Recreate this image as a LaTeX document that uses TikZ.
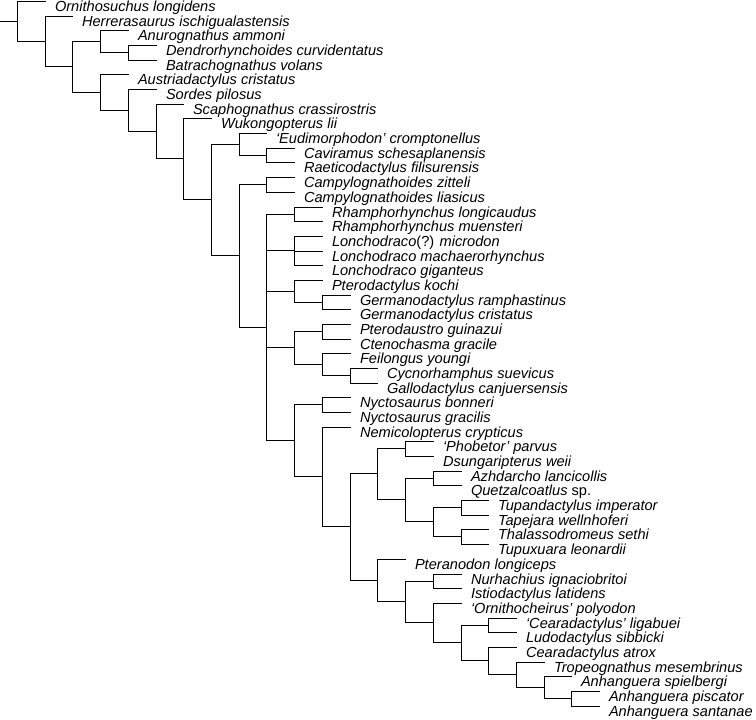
\documentclass[tikz,border=0pt]{standalone}
\usepackage{fontspec}
\setmainfont{Liberation Sans}
\usetikzlibrary{calc}
\newcommand\mkleaf[4]{%
  \coordinate (#1) at ({round(17+27.72*#2)+0.5},{round(1+(#3-1)*14.68)+0.5});
  \node[lab] (t#1) at (#1) {#4};}
\newcommand\mknode[4]{%
  \path let \p1=($(#3)!.5!(#4)$), \p2=(d#2) in coordinate (#1) at (\x2,{floor(\y1)+0.5pt});}
\newcommand\br[3]{\draw[br] (#2) -| (#1) |- (#3);}
\begin{document}
\begin{tikzpicture}[x=1pt,y=-1pt,
  br/.style={line width=1.5pt, black},
  lab/.style={anchor=base west, inner sep=0pt, xshift=9.3pt, yshift=-10.1pt,
    font=\fontsize{14.6pt}{17pt}\selectfont\itshape}]
\useasboundingbox (0,0) rectangle (756,720);
\coordinate (origin) at (0,0);
\foreach \d in {0,...,21} \coordinate (d\d) at ({round(17+27.72*\d)+0.5},0);
% leaves
\mkleaf{l1}{1}{1}{Ornithosuchus longidens}
\mkleaf{l2}{2}{2}{Herrerasaurus ischigualastensis}
\mkleaf{l3}{4}{3}{Anurognathus ammoni}
\mkleaf{l4}{5}{4}{Dendrorhynchoides curvidentatus}
\mkleaf{l5}{5}{5}{Batrachognathus volans}
\mkleaf{l6}{4}{6}{Austriadactylus cristatus}
\mkleaf{l7}{5}{7}{Sordes pilosus}
\mkleaf{l8}{6}{8}{Scaphognathus crassirostris}
\mkleaf{l9}{7}{9}{Wukongopterus lii}
\mkleaf{l10}{9}{10}{‘Eudimorphodon’ cromptonellus}
\mkleaf{l11}{10}{11}{Caviramus schesaplanensis}
\mkleaf{l12}{10}{12}{Raeticodactylus filisurensis}
\mkleaf{l13}{10}{13}{Campylognathoides zitteli}
\mkleaf{l14}{10}{14}{Campylognathoides liasicus}
\mkleaf{l15}{11}{15}{Rhamphorhynchus longicaudus}
\mkleaf{l16}{11}{16}{Rhamphorhynchus muensteri}
\mkleaf{l17}{11}{17}{Lonchodraco{\upshape(?)} microdon}
\mkleaf{l18}{11}{18}{Lonchodraco machaerorhynchus}
\mkleaf{l19}{11}{19}{Lonchodraco giganteus}
\mkleaf{l20}{11}{20}{Pterodactylus kochi}
\mkleaf{l21}{12}{21}{Germanodactylus ramphastinus}
\mkleaf{l22}{12}{22}{Germanodactylus cristatus}
\mkleaf{l23}{12}{23}{Pterodaustro guinazui}
\mkleaf{l24}{12}{24}{Ctenochasma gracile}
\mkleaf{l25}{12}{25}{Feilongus youngi}
\mkleaf{l26}{13}{26}{Cycnorhamphus suevicus}
\mkleaf{l27}{13}{27}{Gallodactylus canjuersensis}
\mkleaf{l28}{12}{28}{Nyctosaurus bonneri}
\mkleaf{l29}{12}{29}{Nyctosaurus gracilis}
\mkleaf{l30}{12}{30}{Nemicolopterus crypticus}
\mkleaf{l31}{15}{31}{‘Phobetor’ parvus}
\mkleaf{l32}{15}{32}{Dsungaripterus weii}
\mkleaf{l33}{16}{33}{Azhdarcho lancicollis}
\mkleaf{l34}{16}{34}{Quetzalcoatlus {\upshape sp.}}
\mkleaf{l35}{17}{35}{Tupandactylus imperator}
\mkleaf{l36}{17}{36}{Tapejara wellnhoferi}
\mkleaf{l37}{17}{37}{Thalassodromeus sethi}
\mkleaf{l38}{17}{38}{Tupuxuara leonardii}
\mkleaf{l39}{14}{39}{Pteranodon longiceps}
\mkleaf{l40}{16}{40}{Nurhachius ignaciobritoi}
\mkleaf{l41}{16}{41}{Istiodactylus latidens}
\mkleaf{l42}{16}{42}{‘Ornithocheirus’ polyodon}
\mkleaf{l43}{18}{43}{‘Cearadactylus’ ligabuei}
\mkleaf{l44}{18}{44}{Ludodactylus sibbicki}
\mkleaf{l45}{18}{45}{Cearadactylus atrox}
\mkleaf{l46}{19}{46}{Tropeognathus mesembrinus}
\mkleaf{l47}{20}{47}{Anhanguera spielbergi}
\mkleaf{l48}{21}{48}{Anhanguera piscator}
\mkleaf{l49}{21}{49}{Anhanguera santanae}
% internal nodes
\mknode{nDB}{4}{l4}{l5}
\mknode{nA}{3}{l3}{nDB}
\mknode{nCR}{9}{l11}{l12}
\mknode{nECR}{8}{l10}{nCR}
\mknode{nCampy}{9}{l13}{l14}
\mknode{nRham}{10}{l15}{l16}
\mknode{nLonch}{10}{l17}{l19}
\mknode{nGerm}{11}{l21}{l22}
\mknode{nPtero}{10}{l20}{nGerm}
\mknode{nPC}{11}{l23}{l24}
\mknode{nCG}{12}{l26}{l27}
\mknode{nFCG}{11}{l25}{nCG}
\mknode{nCten}{10}{nPC}{nFCG}
\mknode{nNycto}{11}{l28}{l29}
\mknode{nPD}{14}{l31}{l32}
\mknode{nAQ}{15}{l33}{l34}
\mknode{nTTa}{16}{l35}{l36}
\mknode{nTTb}{16}{l37}{l38}
\mknode{nTap}{15}{nTTa}{nTTb}
\mknode{nAzT}{14}{nAQ}{nTap}
\mknode{nDsu}{13}{nPD}{nAzT}
\mknode{nNI}{15}{l40}{l41}
\mknode{nCL}{17}{l43}{l44}
\mknode{nAps}{20}{l48}{l49}
\mknode{nAsp}{19}{l47}{nAps}
\mknode{nTro}{18}{l46}{nAsp}
\mknode{nCat}{17}{l45}{nTro}
\mknode{nCea}{16}{nCL}{nCat}
\mknode{nOrn}{15}{l42}{nCea}
\mknode{nIst}{14}{nNI}{nOrn}
\mknode{nPtd}{13}{l39}{nIst}
\mknode{nPtdc}{12}{nDsu}{nPtd}
\mknode{nNem}{11}{l30}{nPtdc}
\mknode{nPtr}{10}{nNycto}{nNem}
\mknode{nPol}{9}{nRham}{nPtr}
\mknode{nNov}{8}{nCampy}{nPol}
\mknode{nWuk}{7}{nECR}{nNov}
\mknode{nW}{6}{l9}{nWuk}
\mknode{nS}{5}{l8}{nW}
\mknode{nSo}{4}{l7}{nS}
\mknode{nAu}{3}{l6}{nSo}
\mknode{nPt}{2}{nA}{nAu}
\mknode{nH}{1}{l2}{nPt}
\mknode{root}{0}{l1}{nH}
% connectors
\draw[br] (root) -- (root -| origin);
\br{root}{l1}{nH}
\br{nH}{l2}{nPt}
\br{nPt}{nA}{nAu}
\br{nA}{l3}{nDB}
\br{nDB}{l4}{l5}
\br{nAu}{l6}{nSo}
\br{nSo}{l7}{nS}
\br{nS}{l8}{nW}
\br{nW}{l9}{nWuk}
\br{nWuk}{nECR}{nNov}
\br{nECR}{l10}{nCR}
\br{nCR}{l11}{l12}
\br{nNov}{nCampy}{nPol}
\br{nCampy}{l13}{l14}
\br{nPol}{nRham}{nPtr}
\foreach \c in {nLonch,nPtero,nCten} \draw[br] (nPol |- \c) -- (\c);
\br{nRham}{l15}{l16}
\br{nLonch}{l17}{l19}
\draw[br] (nLonch |- l18) -- (l18);
\br{nPtero}{l20}{nGerm}
\br{nGerm}{l21}{l22}
\br{nCten}{nPC}{nFCG}
\br{nPC}{l23}{l24}
\br{nFCG}{l25}{nCG}
\br{nCG}{l26}{l27}
\br{nPtr}{nNycto}{nNem}
\br{nNycto}{l28}{l29}
\br{nNem}{l30}{nPtdc}
\br{nPtdc}{nDsu}{nPtd}
\br{nDsu}{nPD}{nAzT}
\br{nPD}{l31}{l32}
\br{nAzT}{nAQ}{nTap}
\br{nAQ}{l33}{l34}
\br{nTap}{nTTa}{nTTb}
\br{nTTa}{l35}{l36}
\br{nTTb}{l37}{l38}
\br{nPtd}{l39}{nIst}
\br{nIst}{nNI}{nOrn}
\br{nNI}{l40}{l41}
\br{nOrn}{l42}{nCea}
\br{nCea}{nCL}{nCat}
\br{nCL}{l43}{l44}
\br{nCat}{l45}{nTro}
\br{nTro}{l46}{nAsp}
\br{nAsp}{l47}{nAps}
\br{nAps}{l48}{l49}
\end{tikzpicture}
\end{document}
